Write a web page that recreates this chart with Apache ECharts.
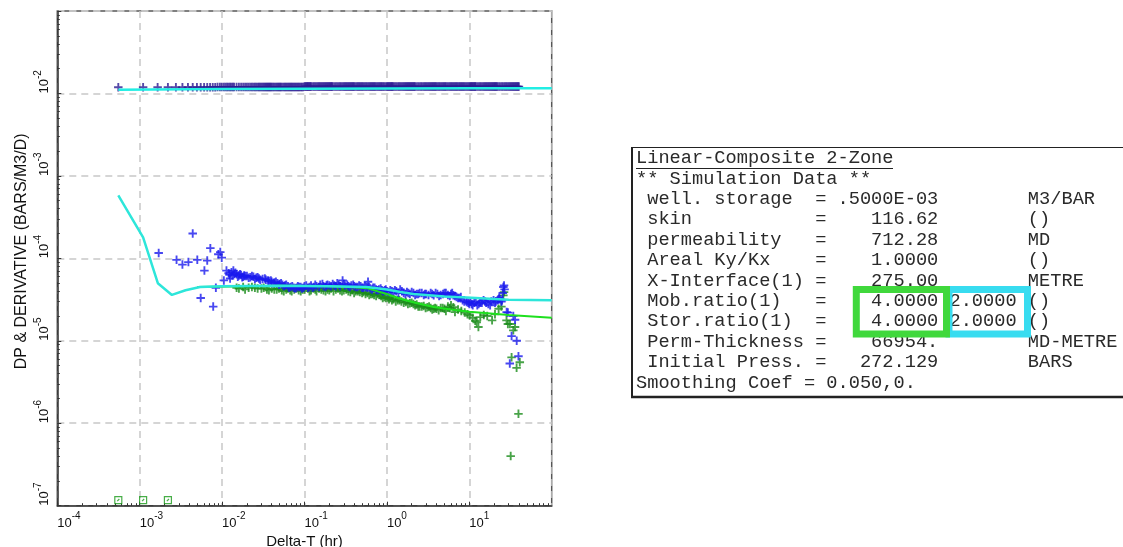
<!DOCTYPE html>
<html>
<head>
<meta charset="utf-8">
<script src="https://cdn.jsdelivr.net/npm/echarts@6/dist/echarts.min.js"></script>
<style>
html,body{margin:0;padding:0;background:#fff;}
#main{width:1123px;height:547px;}
</style>
</head>
<body>
<div id="main"></div>
<script>
// 压力数据点 [Delta-T(hr), DP]
var pressPts = [[0.00055,0.0119],[0.0011,0.0119],[0.00165,0.0119],[0.0022,0.0119],[0.00275,0.0119],[0.0033,0.0119],[0.00385,0.0119],[0.0044,0.0119],[0.00495,0.0119],[0.0055,0.0119],[0.00605,0.0119],[0.0066,0.0119],[0.00715,0.0119],[0.0077,0.0119],[0.00825,0.0119],[0.0088,0.0120],[0.0094,0.0120],[0.0099,0.0120],
	[0.0105,0.0120],[0.011,0.0120],[0.0115,0.0120],[0.012,0.0120],[0.0125,0.0120],[0.013,0.0120],[0.0135,0.0120],[0.014,0.0120],[0.015,0.0120],[0.016,0.0120],[0.017,0.0120],[0.018,0.0120],[0.019,0.0120],[0.02,0.0120],[0.021,0.0120],[0.022,0.0120],[0.024,0.0120],[0.026,0.0120],[0.028,0.0120],[0.03,0.0120],[0.032,0.0120],[0.034,0.0120],[0.036,0.0120],[0.038,0.0120],[0.04,0.0120],[0.043,0.0120],[0.046,0.0120],[0.049,0.0120],[0.052,0.0120],[0.056,0.0120],[0.06,0.0120],[0.064,0.0120],[0.068,0.0120],[0.072,0.0120],[0.077,0.0120],[0.082,0.0120],[0.087,0.0120],[0.093,0.0120],
	[0.1,0.0121],[0.105,0.0121],[0.11,0.0121],[0.115,0.0121],[0.12,0.0121],[0.13,0.0121],[0.14,0.0121],[0.15,0.0121],[0.16,0.0121],[0.17,0.0121],[0.18,0.0121],[0.19,0.0121],[0.2,0.0121],[0.21,0.0121],[0.22,0.0121],[0.24,0.0121],[0.26,0.0121],[0.28,0.0121],[0.3,0.0121],[0.32,0.0121],[0.34,0.0121],[0.36,0.0121],[0.38,0.0121],[0.4,0.0121],[0.43,0.0121],[0.46,0.0121],[0.49,0.0121],[0.52,0.0121],[0.56,0.0121],[0.6,0.0121],[0.64,0.0121],[0.68,0.0121],[0.72,0.0121],[0.77,0.0121],[0.82,0.0121],[0.87,0.0121],[0.93,0.0121],
	[1.0,0.0121],[1.05,0.0121],[1.1,0.0121],[1.15,0.0121],[1.2,0.0121],[1.3,0.0121],[1.4,0.0121],[1.5,0.0121],[1.6,0.0121],[1.7,0.0121],[1.8,0.0121],[1.9,0.0121],[2.0,0.0121],[2.1,0.0121],[2.2,0.0121],[2.4,0.0121],[2.6,0.0121],[2.8,0.0121],[3.0,0.0121],[3.2,0.0121],[3.4,0.0121],[3.6,0.0121],[3.8,0.0121],[4.0,0.0121],[4.3,0.0121],[4.6,0.0121],[4.9,0.0121],[5.2,0.0121],[5.6,0.0121],[6.0,0.0121],[6.4,0.0121],[6.8,0.0121],[7.2,0.0121],[7.7,0.0121],[8.2,0.0121],[8.7,0.0121],[9.3,0.0121],
	[10,0.0121],[10.5,0.0121],[11,0.0121],[11.5,0.0121],[12,0.0121],[13,0.0121],[14,0.0121],[15,0.0121],[16,0.0121],[17,0.0121],[18,0.0121],[19,0.0121],[20,0.0121],[21,0.0121],[22,0.0121],[24,0.0121],[26,0.0121],[28,0.0121],[30,0.0121],[32,0.0121],[34,0.0121],[36,0.0121],[38,0.0121],[40,0.0121]];

// 压力数据点(中间采样)
var pressPtsMid = [[0.023,0.0120],[0.025,0.0120],[0.027,0.0120],[0.029,0.0120],[0.031,0.0120],[0.033,0.0120],[0.035,0.0120],[0.037,0.0120],[0.039,0.0120],[0.0415,0.0120],[0.0445,0.0120],[0.0475,0.0120],[0.0505,0.0120],[0.054,0.0120],[0.058,0.0120],[0.062,0.0120],[0.066,0.0120],[0.07,0.0120],[0.0745,0.0120],[0.0795,0.0120],[0.0845,0.0120],[0.09,0.0120],[0.0965,0.0120],
	[0.1025,0.0121],[0.1075,0.0121],[0.1125,0.0121],[0.1175,0.0121],[0.125,0.0121],[0.135,0.0121],[0.145,0.0121],[0.155,0.0121],[0.165,0.0121],[0.175,0.0121],[0.185,0.0121],[0.195,0.0121],[0.205,0.0121],[0.215,0.0121],[0.23,0.0121],[0.25,0.0121],[0.27,0.0121],[0.29,0.0121],[0.31,0.0121],[0.33,0.0121],[0.35,0.0121],[0.37,0.0121],[0.39,0.0121],[0.415,0.0121],[0.445,0.0121],[0.475,0.0121],[0.505,0.0121],[0.54,0.0121],[0.58,0.0121],[0.62,0.0121],[0.66,0.0121],[0.7,0.0121],[0.745,0.0121],[0.795,0.0121],[0.845,0.0121],[0.9,0.0121],[0.965,0.0121],
	[1.025,0.0121],[1.075,0.0121],[1.125,0.0121],[1.175,0.0121],[1.25,0.0121],[1.35,0.0121],[1.45,0.0121],[1.55,0.0121],[1.65,0.0121],[1.75,0.0121],[1.85,0.0121],[1.95,0.0121],[2.05,0.0121],[2.15,0.0121],[2.3,0.0121],[2.5,0.0121],[2.7,0.0121],[2.9,0.0121],[3.1,0.0121],[3.3,0.0121],[3.5,0.0121],[3.7,0.0121],[3.9,0.0121],[4.15,0.0121],[4.45,0.0121],[4.75,0.0121],[5.05,0.0121],[5.4,0.0121],[5.8,0.0121],[6.2,0.0121],[6.6,0.0121],[7.0,0.0121],[7.45,0.0121],[7.95,0.0121],[8.45,0.0121],[9.0,0.0121],[9.65,0.0121],
	[10.25,0.0121],[10.75,0.0121],[11.25,0.0121],[11.75,0.0121],[12.5,0.0121],[13.5,0.0121],[14.5,0.0121],[15.5,0.0121],[16.5,0.0121],[17.5,0.0121],[18.5,0.0121],[19.5,0.0121],[20.5,0.0121],[21.5,0.0121],[23,0.0121],[25,0.0121],[27,0.0121],[29,0.0121],[31,0.0121],[33,0.0121],[35,0.0121],[37,0.0121],[39,0.0121]];

// 导数数据点(蓝)
var derivBlue = [[0.0017,1.16e-4],[0.0028,9.6e-5],[0.0033,8.4e-5],[0.0039,9.0e-5],[0.0044,2.0e-4],[0.005,9.6e-5],[0.0055,3.3e-5],[0.0061,7.1e-5],[0.0066,9.4e-5],[0.0072,1.33e-4],[0.0078,2.6e-5],[0.0084,4.4e-5],[0.009,1.12e-4],[0.0095,1.19e-4],[0.0099,1.02e-4],[0.0105,5.4e-5],[0.0113,7.1e-5],[0.0125,5.7e-5],[0.0137,7.1e-5],
	[0.012,6.6e-5],[0.013,6.8e-5],[0.014,6.5e-5],[0.015,6.4e-5],[0.016,6.2e-5],[0.017,6.3e-5],[0.018,6.0e-5],[0.019,6.1e-5],[0.02,6.1e-5],[0.022,5.9e-5],[0.024,6.0e-5],[0.026,5.8e-5],[0.028,5.7e-5],[0.031,5.6e-5],[0.034,5.5e-5],[0.037,5.3e-5],[0.04,5.2e-5],[0.043,5.1e-5],[0.047,5.0e-5],[0.05,4.9e-5],[0.054,4.8e-5],[0.058,4.7e-5],[0.063,4.6e-5],[0.068,4.5e-5],[0.074,4.4e-5],[0.08,4.4e-5],[0.086,4.5e-5],[0.093,4.3e-5],[0.1,4.6e-5],[0.11,4.4e-5],[0.12,4.7e-5],[0.13,4.5e-5],[0.14,4.6e-5],[0.155,4.8e-5],[0.17,4.6e-5],[0.185,4.7e-5],[0.2,4.7e-5],[0.22,4.9e-5],[0.24,4.6e-5],[0.26,4.8e-5],[0.29,5.4e-5],[0.31,4.7e-5],[0.34,4.6e-5],[0.37,4.7e-5],[0.4,4.6e-5],[0.44,4.5e-5],[0.48,4.6e-5],[0.52,4.4e-5],[0.56,4.5e-5],[0.59,5.2e-5],[0.63,4.3e-5],[0.68,4.4e-5],[0.74,4.2e-5],[0.8,4.2e-5],[0.87,4.1e-5],[0.94,4.1e-5],[1.0,4.0e-5],[1.1,4.1e-5],[1.2,3.9e-5],[1.3,4.0e-5],[1.45,4.2e-5],[1.6,3.8e-5],[1.75,3.9e-5],[1.9,3.7e-5],[2.1,3.8e-5],[2.3,3.7e-5],[2.5,3.8e-5],[2.8,3.6e-5],[3.0,3.7e-5],[3.4,3.8e-5],[3.7,3.56e-5],[4.1,3.7e-5],[4.5,3.6e-5],[5.0,3.8e-5],[5.5,3.6e-5],[6.0,3.7e-5],[6.4,3.56e-5],[7.0,3.4e-5],[7.6,3.3e-5],[8.3,3.1e-5],[9.3,2.95e-5],[10.0,2.8e-5],[10.7,2.8e-5],[11.5,2.9e-5],[12.5,2.7e-5],[13.5,2.9e-5],[14.9,3.1e-5],[16,2.9e-5],[17.9,2.7e-5],[19.7,3.1e-5],[21,3.0e-5],[22.5,3.2e-5],[23.6,3.2e-5],[24.5,3.0e-5],[25.9,4.5e-5],[26.4,4.7e-5],[26.8,4.2e-5],[28.4,2.23e-5],[29.4,2.2e-5],[31.0,5.3e-6],[32.6,1.14e-5],[34.2,2.0e-5],[35.9,1.8e-5],[37.6,1.0e-5],[39.5,6.5e-6],
	[0.0123,6.3e-5],[0.0133,6.2e-5],[0.0145,6.7e-5],[0.0155,6.0e-5],[0.0165,6.4e-5],[0.0175,5.9e-5],[0.0185,6.2e-5],[0.021,5.8e-5],[0.023,6.1e-5],[0.025,5.6e-5],[0.027,5.9e-5],[0.029,5.5e-5],[0.033,5.7e-5],[0.036,5.4e-5],[0.039,5.4e-5],[0.042,5.0e-5],[0.045,5.2e-5],[0.049,4.8e-5],[0.052,5.0e-5],[0.056,4.6e-5],[0.06,4.8e-5],[0.065,4.4e-5],[0.071,4.6e-5],[0.077,4.3e-5],[0.083,4.6e-5],[0.09,4.5e-5],[0.097,4.4e-5],[0.105,4.7e-5],[0.115,4.5e-5],[0.125,4.4e-5],[0.135,4.8e-5],[0.15,4.5e-5],[0.165,4.9e-5],[0.18,4.5e-5],[0.19,4.8e-5],[0.21,4.6e-5],[0.23,4.7e-5],[0.25,5.0e-5],[0.27,4.6e-5],[0.3,4.9e-5],[0.33,4.8e-5],[0.355,4.5e-5],[0.39,4.8e-5],[0.42,4.5e-5],[0.46,4.7e-5],[0.5,4.4e-5],[0.54,4.6e-5],[0.58,4.4e-5],[0.61,4.5e-5],[0.66,4.2e-5],[0.71,4.4e-5],[0.77,4.1e-5],[0.84,4.3e-5],[0.9,4.0e-5],[0.97,4.2e-5],[1.05,3.9e-5],[1.15,4.0e-5],[1.25,4.1e-5],[1.38,3.8e-5],[1.52,4.0e-5],[1.68,3.7e-5],[1.82,3.8e-5],[2.0,3.9e-5],[2.2,3.6e-5],[2.4,3.7e-5],[2.65,3.8e-5],[2.9,3.7e-5],[3.2,3.6e-5],[3.55,3.7e-5],[3.9,3.8e-5],[4.3,3.5e-5],[4.8,3.7e-5],[5.2,3.8e-5],[5.8,3.5e-5],[6.2,3.8e-5],[6.7,3.5e-5],[7.3,3.3e-5],[7.9,3.4e-5],[8.7,3.0e-5],[9.7,2.9e-5],[10.3,3.0e-5],[11,2.7e-5],[12,3.0e-5],[13,2.8e-5],[14.2,2.9e-5],[15.5,3.0e-5],[17,2.8e-5],[18.5,3.0e-5],[20.5,2.9e-5],[22,3.1e-5],[23,3.3e-5],[25,3.1e-5],[25.5,3.8e-5]];

// 导数数据点(绿)
var derivGreen = [[0.015,4.4e-5],[0.018,4.5e-5],[0.021,4.4e-5],[0.025,4.4e-5],[0.03,4.3e-5],[0.035,4.2e-5],[0.04,4.3e-5],[0.046,4.2e-5],[0.053,4.1e-5],[0.06,4.2e-5],[0.067,4.1e-5],[0.075,4.2e-5],[0.085,4.1e-5],[0.095,4.2e-5],[0.11,4.3e-5],[0.12,4.1e-5],[0.135,4.2e-5],[0.15,4.3e-5],[0.17,4.1e-5],[0.19,4.2e-5],[0.21,4.3e-5],[0.24,4.2e-5],[0.27,4.1e-5],[0.3,4.1e-5],[0.34,4.0e-5],[0.38,4.1e-5],[0.42,4.0e-5],[0.47,3.9e-5],[0.52,3.9e-5],[0.58,3.8e-5],[0.64,3.7e-5],[0.7,3.6e-5],[0.77,3.7e-5],[0.85,3.5e-5],[0.93,3.4e-5],[1.02,3.35e-5],[1.1,3.3e-5],[1.2,3.2e-5],[1.35,3.1e-5],[1.5,3.0e-5],[1.7,2.95e-5],[1.9,2.85e-5],[2.1,2.8e-5],[2.3,2.75e-5],[2.5,2.6e-5],[2.8,2.65e-5],[3.1,2.55e-5],[3.4,2.5e-5],[3.7,2.45e-5],[4.0,2.45e-5],[4.5,2.5e-5],[5.0,2.45e-5],[5.5,2.6e-5],[6.0,2.7e-5],[6.4,2.56e-5],[6.7,2.23e-5],[7.3,2.4e-5],[8.0,2.3e-5],[8.8,2.2e-5],[9.5,2.1e-5],[10.1,2.03e-5],[11,1.9e-5],[11.8,1.75e-5],[12.3,1.68e-5],[12.9,1.47e-5],[13.6,1.94e-5],[15,2.05e-5],[16.5,2.0e-5],[18.9,1.77e-5],[20.5,2.1e-5],[22.7,2.45e-5],[24.5,2.6e-5],[25.9,3.56e-5],[26.4,3.9e-5],[28.3,1.77e-5],[29.4,1.6e-5],[31.1,1.6e-5],[32.6,6.3e-6],[34.2,1.34e-5],[35.9,1.47e-5],[37.5,4.7e-6],[39.5,1.3e-6],[41,5.5e-6],[31.8,4.0e-7],
	[0.016,4.3e-5],[0.019,4.2e-5],[0.023,4.5e-5],[0.027,4.3e-5],[0.032,4.4e-5],[0.037,4.1e-5],[0.043,4.2e-5],[0.049,4.3e-5],[0.056,4.0e-5],[0.063,4.3e-5],[0.07,4.0e-5],[0.08,4.3e-5],[0.09,4.0e-5],[0.1,4.2e-5],[0.115,4.0e-5],[0.128,4.3e-5],[0.14,4.0e-5],[0.16,4.2e-5],[0.18,4.0e-5],[0.2,4.1e-5],[0.225,4.0e-5],[0.255,4.3e-5],[0.285,4.0e-5],[0.32,4.2e-5],[0.36,3.9e-5],[0.4,3.8e-5],[0.445,4.0e-5],[0.5,3.8e-5],[0.55,3.7e-5],[0.61,3.6e-5],[0.67,3.7e-5],[0.74,3.5e-5],[0.81,3.6e-5],[0.89,3.3e-5],[0.97,3.3e-5],[1.06,3.2e-5],[1.15,3.1e-5],[1.28,3.0e-5],[1.42,3.1e-5],[1.6,2.9e-5],[1.8,2.8e-5],[2.0,2.9e-5],[2.2,2.7e-5],[2.4,2.6e-5],[2.65,2.6e-5],[2.95,2.5e-5],[3.25,2.6e-5],[3.55,2.4e-5],[3.85,2.5e-5],[4.25,2.35e-5],[4.75,2.5e-5],[5.2,2.3e-5],[5.8,2.5e-5]];

// 负导数(方框)
var negDeriv = [[0.00055,1.17e-7],[0.0011,1.17e-7],[0.0022,1.17e-7]];

// 模拟曲线
var simPress = [[0.00055,0.0111],[0.01,0.0113],[0.1,0.0114],[1,0.0115],[10,0.0116],[100,0.0116]];
var simDerivA = [[0.00055,5.8e-4],[0.0011,1.8e-4],[0.00166,5.0e-5],[0.00246,3.6e-5],[0.0036,4.1e-5],[0.0054,4.5e-5],[0.01,4.6e-5],[0.05,4.65e-5],[0.2,4.6e-5],[0.57,4.5e-5],[1.0,4.2e-5],[1.46,3.9e-5],[2.1,3.7e-5],[5,3.45e-5],[9.3,3.35e-5],[30,3.15e-5],[100,3.1e-5]];
var simDerivB = [[0.005,4.5e-5],[0.05,4.65e-5],[0.2,4.6e-5],[0.4,4.45e-5],[0.57,4.35e-5],[1.0,3.7e-5],[1.46,3.24e-5],[2.2,2.9e-5],[3.7,2.57e-5],[6,2.4e-5],[10,2.25e-5],[30,2.05e-5],[100,1.9e-5]];

// 坐标轴十进位
var xDecades = [1e-4,1e-3,1e-2,1e-1,1,10];
var yDecades = [1e-7,1e-6,1e-5,1e-4,1e-3,1e-2];

// 参数表
var infoLines = [
	'Linear-Composite 2-Zone',
	'** Simulation Data **',
	' well. storage  = .5000E-03        M3/BAR',
	' skin           =    116.62        ()',
	' permeability   =    712.28        MD',
	' Areal Ky/Kx    =    1.0000        ()',
	' X-Interface(1) =    275.00        METRE',
	' Mob.ratio(1)   =    4.0000 2.0000 ()',
	' Stor.ratio(1)  =    4.0000 2.0000 ()',
	' Perm-Thickness =    66954.        MD-METRE',
	' Initial Press. =   272.129        BARS',
	'Smoothing Coef = 0.050,0.'
];

function minorOf(decs){
	var arr = [];
	for (var i = 0; i < decs.length; i++){
		for (var k = 2; k <= 9; k++){
			arr.push(parseFloat((decs[i]*k).toPrecision(3)));
		}
	}
	return arr;
}
var xMinor = minorOf(xDecades);
var yMinor = minorOf(yDecades);

var plusSym = 'path://M3.9,0H6.1V10H3.9Z M0,3.9H10V6.1H0Z';
var boxSym = 'path://M0,0H10V10H0Z M3.5,6.5L6.5,3.5';
var FONT = 'Liberation Sans, Arial, sans-serif';

function powLabel(v){
	var e = Math.round(Math.log(v)/Math.LN10);
	return '{b|10}{s|' + e + '}';
}
var labelRich = {
	b: {fontSize: 13, fontFamily: FONT, color: '#111', lineHeight: 18, verticalAlign: 'bottom'},
	s: {fontSize: 10, fontFamily: FONT, color: '#111', lineHeight: 10, verticalAlign: 'top'}
};
var gridDash = {color: '#c8c8c8', width: 1.5, type: [7, 5]};

var myChart = echarts.init(document.getElementById('main'));
var option = {
	animation: false,
	backgroundColor: '#fff',
	grid: {
		left: 57.3, top: 11, right: 571.3, bottom: 41.3,
		containLabel: false, outerBoundsMode: 'none',
		show: true, borderColor: '#555', borderWidth: 1.5
	},
	xAxis: [
		{
			type: 'log', logBase: 10, min: 1e-4, max: 100,
			position: 'bottom',
			name: 'Delta-T (hr)', nameLocation: 'middle', nameGap: 26,
			nameTextStyle: {fontFamily: FONT, fontSize: 15, color: '#111'},
			axisLine: {lineStyle: {color: '#333', width: 1.5}},
			axisTick: {inside: true, length: 4, lineStyle: {color: '#333'}},
			axisLabel: {
				showMaxLabel: false, showMinLabel: true, align: 'left', margin: 6,
				formatter: function(v){ return v > 50 ? '' : powLabel(v); },
				rich: labelRich
			},
			splitLine: {show: true, lineStyle: gridDash}
		},
		{
			type: 'log', logBase: 10, min: 1e-4, max: 100,
			position: 'bottom',
			axisLine: {show: false},
			axisLabel: {show: false},
			splitLine: {show: false},
			axisTick: {inside: true, length: 2.5, customValues: xMinor, lineStyle: {color: '#333'}}
		}
	],
	yAxis: [
		{
			type: 'log', logBase: 10, min: 1e-7, max: 0.1,
			position: 'left',
			name: 'DP & DERIVATIVE (BARS/M3/D)', nameLocation: 'middle', nameGap: 28, nameRotate: 90,
			nameTextStyle: {fontFamily: FONT, fontSize: 16, color: '#111', padding: [0, 0, 0, 14]},
			axisLine: {show: true, lineStyle: {color: '#333', width: 1.5}},
			axisTick: {show: true, inside: true, length: 4, lineStyle: {color: '#333'}},
			axisLabel: {
				rotate: 90, align: 'left', verticalAlign: 'bottom', margin: 6,
				showMaxLabel: false, showMinLabel: true,
				formatter: function(v){ return v > 0.05 ? '' : powLabel(v); },
				rich: labelRich
			},
			splitLine: {show: true, lineStyle: gridDash}
		},
		{
			type: 'log', logBase: 10, min: 1e-7, max: 0.1,
			position: 'left',
			axisLine: {show: false},
			axisLabel: {show: false},
			splitLine: {show: false},
			axisTick: {show: true, inside: true, length: 2.5, customValues: yMinor, lineStyle: {color: '#333'}}
		}
	],
	series: [
		{
			name: 'DP', type: 'scatter', data: pressPts.concat(pressPtsMid),
			symbol: plusSym, symbolSize: 8.5,
			itemStyle: {color: '#2c1a92'}
		},
		{
			name: 'DERIV2', type: 'scatter', data: derivGreen,
			symbol: plusSym, symbolSize: 8.5,
			itemStyle: {color: '#1a8c1a'}
		},
		{
			name: 'DERIV1', type: 'scatter', data: derivBlue,
			symbol: plusSym, symbolSize: 8.5,
			itemStyle: {color: '#1a1aee'}
		},
		{
			name: 'SIM-DP', type: 'line', data: simPress, showSymbol: false,
			lineStyle: {color: '#22eee4', width: 2.5}
		},
		{
			name: 'SIM-DER2', type: 'line', data: simDerivB, showSymbol: false,
			lineStyle: {color: '#1ee01e', width: 2}
		},
		{
			name: 'SIM-DER1', type: 'line', data: simDerivA, showSymbol: false,
			lineStyle: {color: '#2de6da', width: 2.5}
		},
		{
			name: 'NEG', type: 'scatter', data: negDeriv,
			symbol: boxSym, symbolSize: 7,
			itemStyle: {color: 'rgba(0,0,0,0)', borderColor: '#1a9a1a', borderWidth: 1.2}
		}
	],
	graphic: []
};

// 参数文本框
var gEls = [];
gEls.push({type: 'rect', shape: {x: 631.5, y: 147.5, width: 520, height: 250}, style: {fill: '#fff', stroke: '#222', lineWidth: 1}, z: 10});
gEls.push({type: 'line', shape: {x1: 632, y1: 147, x2: 632, y2: 398}, style: {stroke: '#222', lineWidth: 2}, z: 11});
gEls.push({type: 'line', shape: {x1: 631, y1: 397, x2: 1123, y2: 397}, style: {stroke: '#222', lineWidth: 2.5}, z: 11});
for (var i = 0; i < infoLines.length; i++){
	gEls.push({
		type: 'text', z: 12,
		style: {
			text: infoLines[i], x: 636, y: 158.3 + i*20.4,
			font: '18.67px "Liberation Mono", "Courier New", monospace',
			fill: '#2a2a2a', align: 'left', verticalAlign: 'middle',
			textAlign: 'left', textVerticalAlign: 'middle'
		}
	});
}
gEls.push({type: 'line', shape: {x1: 636, y1: 168.5, x2: 893, y2: 168.5}, style: {stroke: '#222', lineWidth: 1}, z: 12});
gEls.push({type: 'rect', shape: {x: 949, y: 289.5, width: 78.5, height: 44.5}, style: {fill: 'none', stroke: '#38dcf0', lineWidth: 7}, z: 13});
gEls.push({type: 'rect', shape: {x: 856.3, y: 289.5, width: 90.2, height: 44.5}, style: {fill: 'none', stroke: '#40d83c', lineWidth: 7}, z: 14});
option.graphic = gEls;

myChart.setOption(option);
</script>
</body>
</html>
